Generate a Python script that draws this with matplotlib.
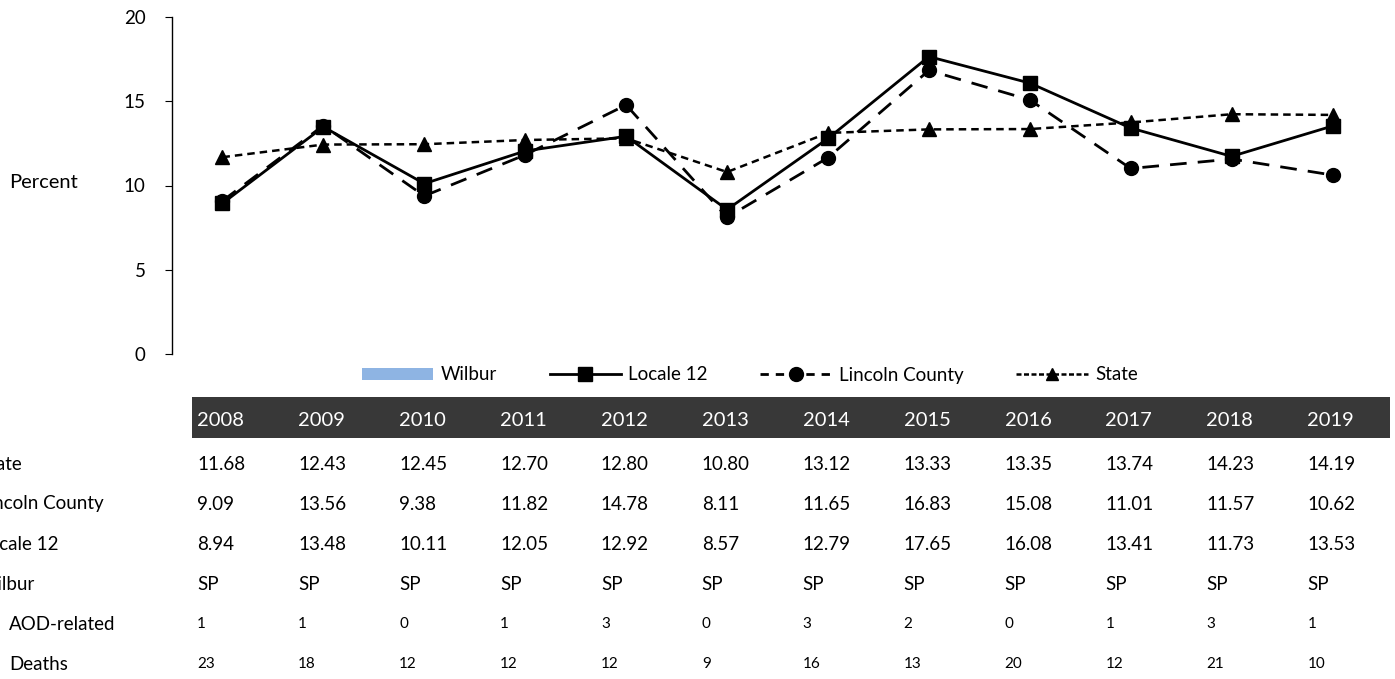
import matplotlib.pyplot as plt
import matplotlib.transforms as mtransforms
from matplotlib.patches import Patch, Rectangle
from matplotlib.lines import Line2D

years = ['2008', '2009', '2010', '2011', '2012', '2013',
         '2014', '2015', '2016', '2017', '2018', '2019']
state = [11.68, 12.43, 12.45, 12.70, 12.80, 10.80,
         13.12, 13.33, 13.35, 13.74, 14.23, 14.19]
lincoln = [9.09, 13.56, 9.38, 11.82, 14.78, 8.11,
           11.65, 16.83, 15.08, 11.01, 11.57, 10.62]
locale12 = [8.94, 13.48, 10.11, 12.05, 12.92, 8.57,
            12.79, 17.65, 16.08, 13.41, 11.73, 13.53]
wilbur = ['SP'] * 12
aod_related = [1, 1, 0, 1, 3, 0, 3, 2, 0, 1, 3, 1]
deaths = [23, 18, 12, 12, 12, 9, 16, 13, 20, 12, 21, 10]

plt.rcParams['font.family'] = ['Lato', 'DejaVu Sans']

W, H = 1395, 679
fig = plt.figure(figsize=(W / 100, H / 100), dpi=100)
ax = fig.add_axes([172 / W, 1 - 354 / H, 1211 / W, 337 / H])

x = list(range(len(years)))
ax.plot(x, locale12, color='black', lw=2, marker='s', ms=10)
ax.plot(x, lincoln, color='black', lw=2, ls=(0, (6, 4)), marker='o', ms=10)
ax.plot(x, state, color='black', lw=1.8, ls=(0, (3, 2)), marker='^', ms=10)

ax.set_xlim(-0.5, len(years) - 0.5)
ax.set_ylim(0, 20)
ax.set_yticks([0, 5, 10, 15, 20])
ax.set_xticks([])
for s in ['top', 'right', 'bottom']:
    ax.spines[s].set_visible(False)
ax.spines['left'].set_linewidth(1)
ax.tick_params(axis='y', labelsize=13.5, length=5, pad=14)

def fy(py):
    return 1 - py / H

fig.text(9 / W, fy(183), 'Percent', fontsize=14.5, va='center', ha='left')

handles = [
    Patch(facecolor='#8EB4E3', edgecolor='none'),
    Line2D([], [], color='black', lw=2, marker='s', ms=10),
    Line2D([], [], color='black', lw=2, ls=(0, (3, 2.5)), marker='o', ms=10),
    Line2D([], [], color='black', lw=1.8, ls=(0, (2, 1)), marker='^', ms=9),
]
fig.legend(handles, ['Wilbur', 'Locale 12', 'Lincoln County', 'State'],
           loc='center', bbox_to_anchor=(750 / W, fy(375)), ncol=4,
           frameon=False, fontsize=13.5, handlelength=3.8, handleheight=0.6,
           columnspacing=2.8, handletextpad=0.4)

# table below the chart
tr = mtransforms.blended_transform_factory(ax.transData, fig.transFigure)
band = Rectangle((-0.3, fy(438)), 11.87, 41 / H, transform=tr,
                 facecolor='#383838', edgecolor='none', clip_on=False)
fig.add_artist(band)

for i, yr in enumerate(years):
    fig.text(i - 0.25, fy(420), yr, transform=tr, color='white',
             fontsize=14.5, va='center', ha='left')

rows = [
    ('State', [f'{v:.2f}' for v in state], 464, 13.5, -21),
    ('Lincoln County', [f'{v:.2f}' for v in lincoln], 504, 13.5, -21),
    ('Locale 12', [f'{v:.2f}' for v in locale12], 544, 13.5, -21),
    ('Wilbur', wilbur, 584, 13.5, -21),
    ('AOD-related', [str(v) for v in aod_related], 624, 11, 9),
    ('Deaths', [str(v) for v in deaths], 664, 11, 9),
]
for label, vals, py, fs, lx in rows:
    fig.text(lx / W, fy(py), label, fontsize=13.5, va='center', ha='left')
    for i, v in enumerate(vals):
        fig.text(i - 0.25, fy(py), v, transform=tr, fontsize=fs,
                 va='center', ha='left')

fig.savefig('out.png', dpi=100)
